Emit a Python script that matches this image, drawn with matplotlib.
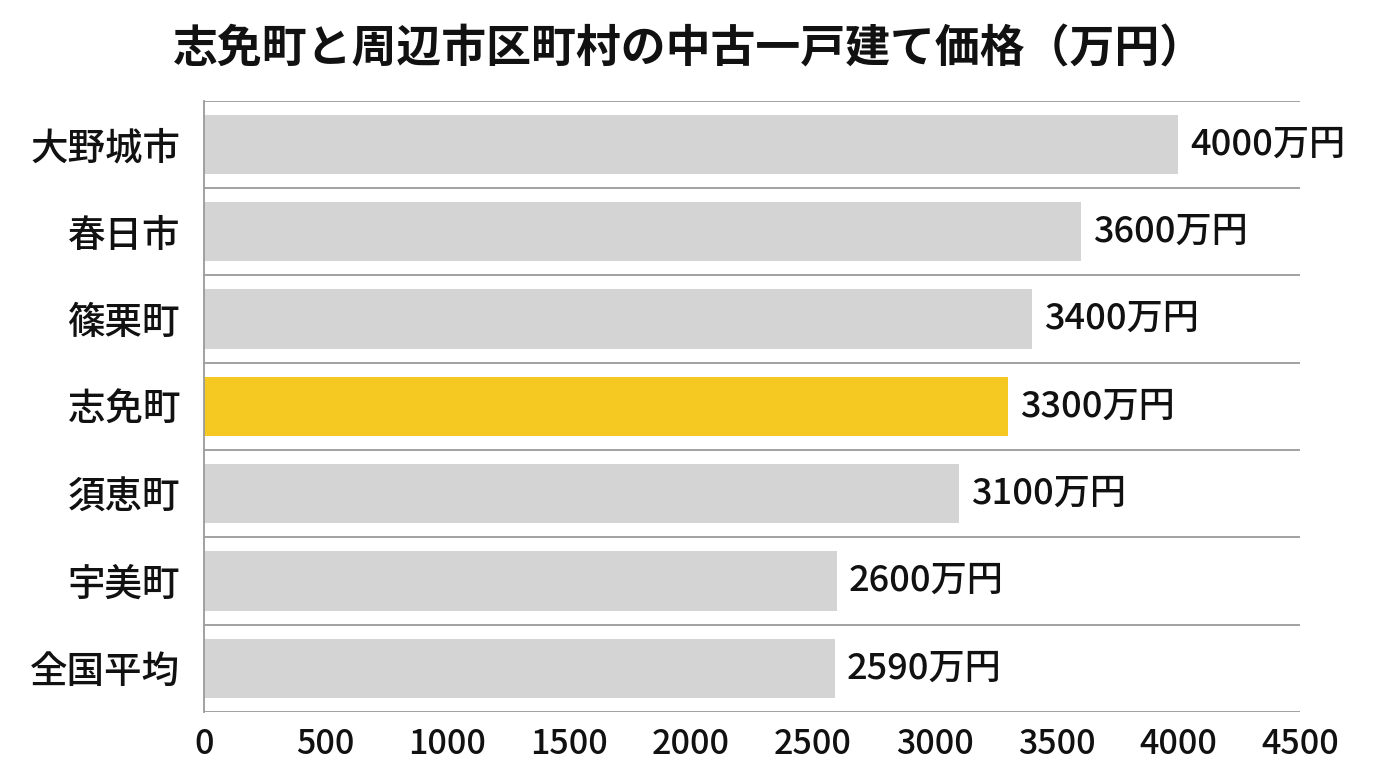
import matplotlib
matplotlib.use("Agg")
import numpy as np
import matplotlib.pyplot as plt

plt.rcParams["font.family"] = ["Noto Sans CJK JP", "DejaVu Sans"]
plt.rcParams["font.weight"] = "medium"

# data (top to bottom)
categories = ["大野城市", "春日市", "篠栗町", "志免町", "須恵町", "宇美町", "全国平均"]
prices = [4000, 3600, 3400, 3300, 3100, 2600, 2590]
highlight = "志免町"
x_ticks = [0, 500, 1000, 1500, 2000, 2500, 3000, 3500, 4000, 4500]

GRAY = "#d4d4d4"
YELLOW = "#f5c922"
LINE = "#9a9a9a"

fig = plt.figure(figsize=(13.76, 7.68), dpi=100)
ax = fig.add_axes([0.148, 0.073, 0.797, 0.796])

y = np.arange(len(categories))[::-1]
colors = [YELLOW if c == highlight else GRAY for c in categories]
ax.barh(y, prices, height=0.68, color=colors, zorder=2)

for yi, v in zip(y, prices):
    ax.text(v + 48, yi, f"{v}万円", va="center", ha="left", fontsize=26, color="#111111")

# separators between rows
for b in np.arange(-0.5, len(categories), 1.0):
    ax.axhline(b, color=LINE, lw=1.3, zorder=1)

ax.set_xlim(0, 4500)
ax.set_ylim(-0.5, len(categories) - 0.5)
ax.set_xticks(x_ticks)
ax.set_yticks(y)
ax.set_yticklabels(categories)
ax.tick_params(axis="both", length=0, colors="#111111")
ax.tick_params(axis="x", labelsize=24.5, pad=11)
ax.tick_params(axis="y", labelsize=27, pad=17)

for side in ["top", "right", "bottom"]:
    ax.spines[side].set_visible(False)
ax.spines["left"].set_color(LINE)
ax.spines["left"].set_linewidth(1.3)

fig.text(0.5005, 0.936, "志免町と周辺市区町村の中古一戸建て価格（万円）",
         ha="center", va="center", fontsize=32.3, fontweight="bold", color="#111111")

fig.savefig("out.png", dpi=100, facecolor="white")
